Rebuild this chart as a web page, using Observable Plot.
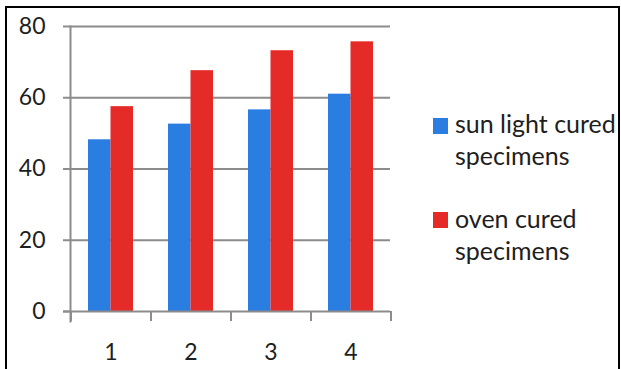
<!DOCTYPE html>
<html><head><meta charset="utf-8">
<script src="https://cdn.jsdelivr.net/npm/d3@7"></script>
<script src="https://cdn.jsdelivr.net/npm/@observablehq/plot@0.6"></script>
<style>
html,body{margin:0;padding:0;background:#fff;overflow:hidden}
#wrap{position:relative;width:621px;height:369px;}
#box{position:absolute;left:5px;top:6px;width:615px;height:380px;border:2px solid #000;box-sizing:border-box;}
#chart{position:absolute;left:0;top:0;}
.leg{position:absolute;font-family:Lato,sans-serif;font-size:25px;color:#1e1e1e;line-height:32px;white-space:nowrap;}
.sw{position:absolute;width:15px;height:16px;}
</style></head>
<body><div id="wrap"><div id="box"></div><div id="chart"></div>
<div class="sw" id="sw1"></div><div class="leg" id="lg1"></div>
<div class="sw" id="sw2"></div><div class="leg" id="lg2"></div>
</div>
<script>
const categories = ["1", "2", "3", "4"];
const seriesNames = ["sun light cured specimens", "oven cured specimens"];
const sunLight = [48.2, 52.6, 56.6, 61.0];
const oven = [57.5, 67.6, 73.2, 75.7];
const yTicks = [0, 20, 40, 60, 80];
const colors = ["#2a7de1", "#e52b28"];

const sunData = categories.map((c, i) => ({cat: c, value: sunLight[i]}));
const ovenData = categories.map((c, i) => ({cat: c, value: oven[i]}));
const gray = "#8c8c8c";

const plot = Plot.plot({
  width: 621, height: 369,
  marginLeft: 70, marginRight: 231, marginTop: 26, marginBottom: 58,
  style: {fontFamily: "Lato, sans-serif", background: "transparent"},
  x: {domain: categories, paddingInner: 0.4375, paddingOuter: 0.21875},
  y: {domain: [0, 80]},
  marks: [
    Plot.ruleY(yTicks.filter(d => d > 0), {stroke: gray, strokeWidth: 2}),
    Plot.barY(sunData, {x: "cat", y: "value", fill: colors[0], insetRight: 22.5}),
    Plot.barY(ovenData, {x: "cat", y: "value", fill: colors[1], insetLeft: 22.5}),
    Plot.ruleY([0], {stroke: gray, strokeWidth: 2, insetLeft: -7}),
    Plot.frame({anchor: "left", stroke: gray, strokeWidth: 2, insetBottom: -10}),
    Plot.ruleX(categories, {x: d => d, y1: 0, y2: 0, dx: -40, stroke: gray, strokeWidth: 2, insetBottom: -10}),
    Plot.ruleX(categories.slice(-1), {x: d => d, y1: 0, y2: 0, dx: 40, stroke: gray, strokeWidth: 2, insetBottom: -10}),
    Plot.axisY({ticks: yTicks, tickSize: 7, tickPadding: 18, stroke: gray, strokeWidth: 2, strokeOpacity: 1, fill: "#1e1e1e", fontSize: 23, label: null}),
    Plot.axisX({tickSize: 0, tickPadding: 32, fill: "#1e1e1e", fontSize: 23, label: null})
  ]
});
document.getElementById("chart").appendChild(plot);

const legPos = [{sq: [433, 118], tx: [455, 107]}, {sq: [433, 212], tx: [455, 202]}];
const names = [["sun light cured", "specimens"], ["oven cured", "specimens"]];
[1, 2].forEach((k, i) => {
  const sw = document.getElementById("sw" + k);
  sw.style.left = legPos[i].sq[0] + "px"; sw.style.top = legPos[i].sq[1] + "px";
  sw.style.background = colors[i];
  const lg = document.getElementById("lg" + k);
  lg.style.left = legPos[i].tx[0] + "px"; lg.style.top = legPos[i].tx[1] + "px";
  lg.innerHTML = names[i].join("<br>");
});
</script></body></html>
